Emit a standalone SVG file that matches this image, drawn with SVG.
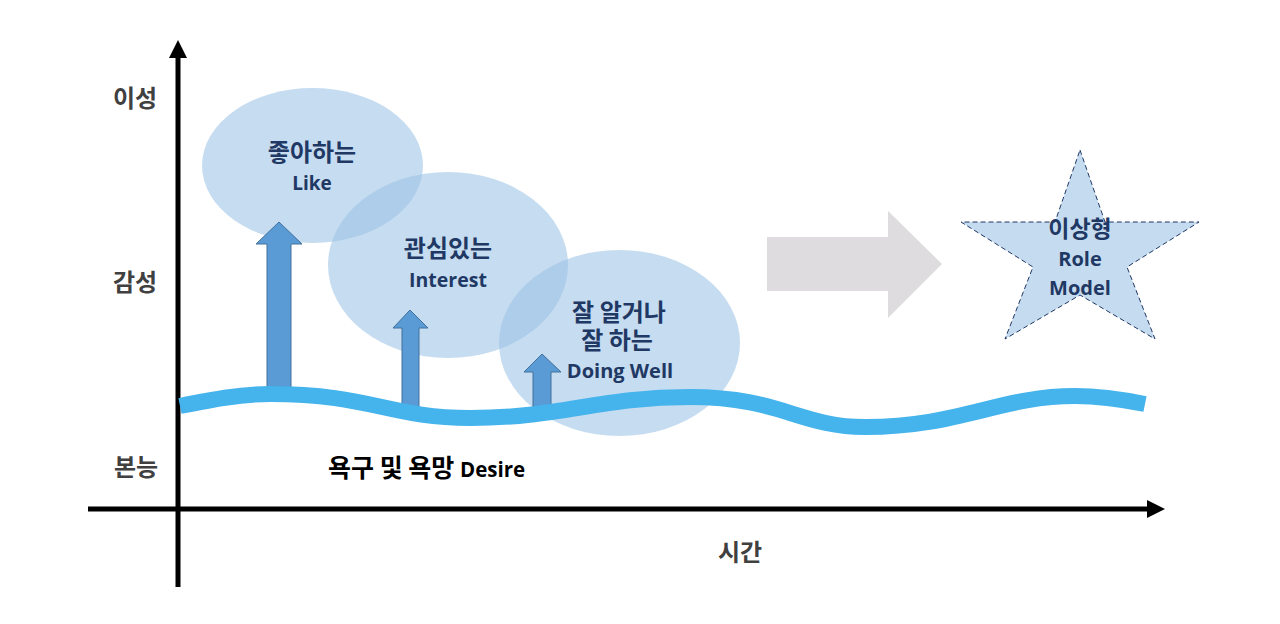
<svg xmlns="http://www.w3.org/2000/svg" width="1280" height="624" viewBox="0 0 1280 624">
<defs>
<style>
.ko{font-family:"Noto Sans CJK KR","Noto Sans",sans-serif;font-weight:bold}
.la{font-family:"Open Sans","Noto Sans",sans-serif;font-weight:bold}
.navy{fill:#1f3864}
.axl{fill:#404040;font-size:24px}
.ell{fill:#9dc3e6;fill-opacity:0.58}
.up{fill:#5b9bd5;stroke:#41719c;stroke-width:1}
</style>
<marker id="ah" markerUnits="userSpaceOnUse" markerWidth="18" markerHeight="18" refX="0" refY="9" orient="auto">
<path d="M0,0 L18,9 L0,18 z" fill="#000"/>
</marker>
</defs>
<rect width="1280" height="624" fill="#fff"/>
<g id="connectors">
<line x1="178" y1="587" x2="178" y2="58" stroke="#000" stroke-width="5" marker-end="url(#ah)"/>
<line x1="88" y1="509" x2="1147" y2="509" stroke="#000" stroke-width="5" marker-end="url(#ah)"/>
</g>
<g id="axis-labels">
<text class="ko axl" x="135" y="107" text-anchor="middle">이성</text>
<text class="ko axl" x="135" y="291" text-anchor="middle">감성</text>
<text class="ko axl" x="136" y="476" text-anchor="middle">본능</text>
<text class="ko axl" x="740" y="561" text-anchor="middle">시간</text>
</g>
<g id="ellipses">
<ellipse id="like" class="ell" cx="312.5" cy="165.5" rx="110.5" ry="77.5"/>
<ellipse id="interest" class="ell" cx="448" cy="265" rx="120" ry="93"/>
<ellipse id="doingwell" class="ell" cx="619.5" cy="343" rx="120.5" ry="93"/>
</g>
<g id="up-arrows">
<path class="up" d="M267,387 L267,244 L256,244 L279,222 L302,244 L291,244 L291,387 Z"/>
<path class="up" d="M402,410 L402,328 L393,328 L410,310 L428,328 L419,328 L419,410 Z"/>
<path class="up" d="M533,410 L533,372 L524,372 L542,354 L561,372 L551,372 L551,410 Z"/>
</g>
<g id="wave">
<path d="M180,406 C210,400 240,394 270,394 C370,394 390,418 470,418 C560,418 600,397 690,397 C780,397 800,427 865,427 C960,427 1000,396 1075,396 C1100,396 1125,400 1145,404" fill="none" stroke="#45b3ec" stroke-width="16"/>
</g>
<g id="big-arrow">
<path d="M767,237 L888,237 L888,211 L942,264 L888,318 L888,291 L767,291 Z" fill="#dedcde"/>
</g>
<g id="star">
<path d="M1080,150 L1105,222 L1199,222 L1127,267 L1155,339 L1080,295 L1005,339 L1033,267 L961,222 L1055,222 Z" fill="#c5dbef" stroke="#1f3864" stroke-width="1" stroke-dasharray="5,3"/>
<text class="ko navy" x="1080" y="237" font-size="23" text-anchor="middle">이상형</text>
<text class="la navy" x="1080" y="266" font-size="20" text-anchor="middle">Role</text>
<text class="la navy" x="1080" y="295" font-size="20" text-anchor="middle">Model</text>
</g>
<g id="like-text">
<text class="ko navy" x="312" y="161" font-size="24" text-anchor="middle">좋아하는</text>
<text class="la navy" x="312" y="190" font-size="19" text-anchor="middle">Like</text>
</g>
<g id="interest-text">
<text class="ko navy" x="448" y="257" font-size="24" text-anchor="middle">관심있는</text>
<text class="la navy" x="448" y="287" font-size="19.5" text-anchor="middle">Interest</text>
</g>
<g id="doingwell-text">
<text class="ko navy" font-size="24" text-anchor="middle"><tspan x="619" y="321">잘 알거나</tspan><tspan x="617" y="349">잘 하는</tspan></text>
<text class="la navy" x="620" y="378" font-size="20" text-anchor="middle">Doing Well</text>
</g>
<g id="desire">
<text x="328" y="477" fill="#000"><tspan class="ko" font-size="25">욕구 및 욕망 </tspan><tspan class="la" font-size="20.5">Desire</tspan></text>
</g>
</svg>
